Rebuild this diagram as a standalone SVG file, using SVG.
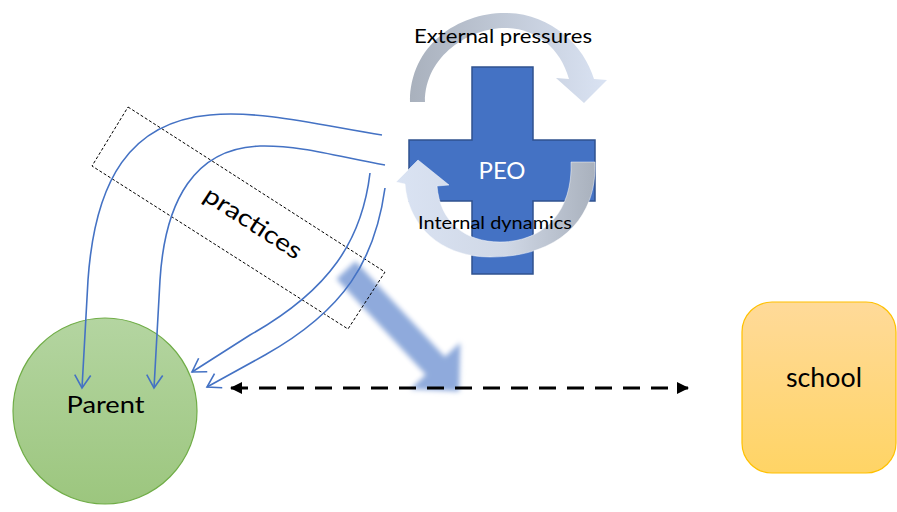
<svg xmlns="http://www.w3.org/2000/svg" width="897" height="512" viewBox="0 0 897 512">
<style>
.lbl{font-family:Lato,"Liberation Sans",sans-serif;fill:#000}
.curve{fill:none;stroke:#4472C4;stroke-width:1.6;marker-end:url(#vee)}
</style>
<defs>
<marker id="vee" viewBox="-14 -9 16 18" refX="0" refY="0" markerWidth="16" markerHeight="18" markerUnits="userSpaceOnUse" orient="auto">
<polyline points="-13,-8 0,0 -13,8" fill="none" stroke="#4472C4" stroke-width="1.6"/>
</marker>
<marker id="blk" viewBox="0 0 12 12" refX="11" refY="6" markerWidth="12" markerHeight="12" markerUnits="userSpaceOnUse" orient="auto-start-reverse">
<path d="M0,0 L12,6 L0,12 Z" fill="#000"/>
</marker>
<linearGradient id="gExt" x1="0" y1="0" x2="1" y2="0">
<stop offset="0" stop-color="#A9B1BD"/><stop offset="1" stop-color="#DAE3F3"/>
</linearGradient>
<linearGradient id="gInt" x1="0" y1="0" x2="1" y2="0">
<stop offset="0" stop-color="#DAE3F3"/><stop offset="0.55" stop-color="#D0D8E6"/><stop offset="1" stop-color="#A9B1BD"/>
</linearGradient>
<linearGradient id="gPar" x1="0" y1="0" x2="0" y2="1">
<stop offset="0" stop-color="#B4D5A1"/><stop offset="1" stop-color="#9CC67E"/>
</linearGradient>
<linearGradient id="gSch" x1="0" y1="0" x2="0" y2="1">
<stop offset="0" stop-color="#FFDA99"/><stop offset="1" stop-color="#FFD465"/>
</linearGradient>
<filter id="blur" x="-20%" y="-20%" width="140%" height="140%"><feGaussianBlur stdDeviation="2.5"/></filter>
</defs>

<g id="flow-arrow">
<polygon transform="translate(346,270) rotate(47)" points="0,-13 131,-13 131,-34 166,0 131,34 131,13 0,13" fill="#8FAADC" filter="url(#blur)"/>
</g>

<g id="school">
<rect x="742" y="302" width="154" height="171" rx="30" ry="30" fill="url(#gSch)" stroke="#FFC000" stroke-width="1.2"/>
<text class="lbl" x="824" y="387" font-size="26" text-anchor="middle" textLength="76" lengthAdjust="spacingAndGlyphs">school</text>
</g>

<g id="parent">
<ellipse cx="105" cy="411" rx="92" ry="93" fill="url(#gPar)" stroke="#70AD47" stroke-width="1.2"/>
<text class="lbl" x="105.5" y="413" font-size="24" text-anchor="middle" textLength="78" lengthAdjust="spacingAndGlyphs">Parent</text>
</g>

<g id="peo">
<path d="M472,67 H533 V140 H595 V201 H533 V274 H472 V201 H409 V140 H472 Z" fill="#4472C4" stroke="#2F528F" stroke-width="1.5"/>
<text x="502" y="179" font-size="23" text-anchor="middle" fill="#fff" font-family="Lato,'Liberation Sans',sans-serif" textLength="47" lengthAdjust="spacingAndGlyphs">PEO</text>
</g>

<g id="external-pressures">
<path d="M410,102 C410,45 458,13 505,13 C550,13 584,45 594,79 L607,80 L584,103 L556,78 L569,79 C560,47 535,28 505,28 C470,28 425,55 425,102 Z" fill="url(#gExt)"/>
<text class="lbl" x="503" y="43" font-size="19" text-anchor="middle" textLength="178" lengthAdjust="spacingAndGlyphs">External pressures</text>
</g>

<g id="internal-dynamics">
<path d="M571,162 L595,162 C597,218 560,257 490,257 C440,257 408,225 405,184 L396,182 L418,160 L449,185 L437,186 C440,222 465,242 500,242 C545,242 573,210 571,162 Z" fill="url(#gInt)" stroke="#FFFFFF" stroke-width="0.8" stroke-opacity="0.6"/>
<text class="lbl" x="495" y="229" font-size="17" text-anchor="middle" textLength="154" lengthAdjust="spacingAndGlyphs">Internal dynamics</text>
</g>

<g id="practices">
<polygon points="128,107 385,272 348,329 92,166" fill="none" stroke="#000" stroke-width="1" stroke-dasharray="3,2"/>
<text class="lbl" transform="translate(253,223) rotate(33)" x="0" y="8" font-size="24" text-anchor="middle" textLength="112" lengthAdjust="spacingAndGlyphs">practices</text>
</g>

<g id="connectors">
<path class="curve" d="M382,135 C320,125 260,110 210,115 C130,122 95,180 88,280 L82,388"/>
<path class="curve" d="M385,165 C340,157 300,145 260,146 C195,148 165,200 160,280 L154,388"/>
<path class="curve" d="M370,173 C362,240 330,290 250,335 L192,372"/>
<path class="curve" d="M385,188 C375,260 345,310 265,355 L207,387"/>
<line x1="231" y1="388" x2="688" y2="388" stroke="#000" stroke-width="3" stroke-dasharray="17,11" marker-start="url(#blk)" marker-end="url(#blk)"/>
</g>
</svg>
